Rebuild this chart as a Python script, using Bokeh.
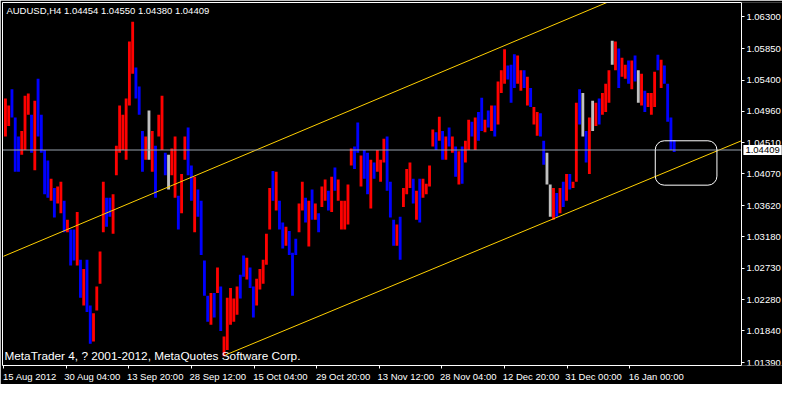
import math
from bokeh.plotting import figure
from bokeh.models import (Range1d, FixedTicker, PrintfTickFormatter, Label, BoxAnnotation,
                          ColumnDataSource, LinearAxis)
from bokeh.embed import file_html
from bokeh.resources import INLINE

symbol = "AUDUSD,H4"
last_ohlc = [1.04454, 1.04550, 1.04380, 1.04409]
copyright_text = "MetaTrader 4, ? 2001-2012, MetaQuotes Software Corp."

# aggregated H4 bars (each slot ~ 3.33 H4 bars)
highs = [
    1.0514, 1.0504, 1.0527, 1.0487, 1.0460, 1.0468, 1.0518, 1.0521, 1.0491, 1.0511,
    1.0542, 1.0491, 1.0441, 1.0426, 1.0400, 1.0387, 1.0389, 1.0396, 1.0369, 1.0342,
    1.0328, 1.0328, 1.0353, 1.0285, 1.0272, 1.0285, 1.0220, 1.0209, 1.0247, 1.0297,
    1.0396, 1.0373, 1.0373, 1.0378, 1.0447,
    1.0504, 1.0491, 1.0514, 1.0595, 1.0623, 1.0558, 1.0531, 1.0468, 1.0460, 1.0497,
    1.0468, 1.0447, 1.0491, 1.0518, 1.0437, 1.0434, 1.0443, 1.0460, 1.0376, 1.0407,
    1.0460, 1.0473, 1.0419, 1.0403, 1.0385, 1.0369, 1.0284, 1.0234, 1.0238, 1.0238,
    1.0274, 1.0247, 1.0176, 1.0231,
    1.0245, 1.0230, 1.0247, 1.0264, 1.0291, 1.0288, 1.0274, 1.0247, 1.0258, 1.0272,
    1.0285, 1.0322, 1.0387, 1.0411, 1.0410, 1.0369, 1.0338, 1.0332, 1.0326, 1.0295,
    1.0315, 1.0365, 1.0396, 1.0373, 1.0369, 1.0385, 1.0365, 1.0351, 1.0389, 1.0399,
    1.0383, 1.0403, 1.0416, 1.0399, 1.0369,
    1.0369, 1.0392, 1.0443, 1.0446, 1.0480, 1.0433, 1.0441, 1.0437, 1.0427, 1.0423,
    1.0441, 1.0427, 1.0457, 1.0460, 1.0396, 1.0342, 1.0335, 1.0346, 1.0387, 1.0414,
    1.0423, 1.0400, 1.0383, 1.0400, 1.0400, 1.0393, 1.0419, 1.0470, 1.0466, 1.0488,
    1.0468, 1.0460, 1.0473, 1.0460,
    1.0446, 1.0439, 1.0446, 1.0454, 1.0484, 1.0481, 1.0487, 1.0495, 1.0515, 1.0484,
    1.0497, 1.0504, 1.0504, 1.0538, 1.0554, 1.0584, 1.0561, 1.0562, 1.0577, 1.0575,
    1.0554, 1.0554, 1.0545, 1.0529, 1.0502, 1.0495, 1.0493, 1.0454, 1.0437, 1.0392,
    1.0387, 1.0380, 1.0387, 1.0396, 1.0407,
    1.0407, 1.0396, 1.0508, 1.0527, 1.0522, 1.0468, 1.0487, 1.0511, 1.0508, 1.0514,
    1.0522, 1.0535, 1.0554, 1.0596, 1.0595, 1.0585, 1.0572, 1.0562, 1.0568, 1.0568,
    1.0575, 1.0554, 1.0549, 1.0525, 1.0522, 1.0522, 1.0552, 1.0576, 1.0569, 1.0561,
    1.0535, 1.0487, 1.0455,
]
lows = [
    1.0460, 1.0475, 1.0487, 1.0410, 1.0410, 1.0434, 1.0441, 1.0491, 1.0437, 1.0412,
    1.0460, 1.0437, 1.0378, 1.0373, 1.0369, 1.0345, 1.0365, 1.0351, 1.0324, 1.0324,
    1.0277, 1.0284, 1.0277, 1.0231, 1.0220, 1.0211, 1.0166, 1.0169, 1.0213, 1.0251,
    1.0324, 1.0332, 1.0346, 1.0322, 1.0405,
    1.0437, 1.0441, 1.0427, 1.0504, 1.0549, 1.0514, 1.0491, 1.0410, 1.0427, 1.0427,
    1.0410, 1.0373, 1.0460, 1.0441, 1.0405, 1.0385, 1.0405, 1.0373, 1.0328, 1.0351,
    1.0427, 1.0405, 1.0369, 1.0324, 1.0346, 1.0292, 1.0234, 1.0197, 1.0193, 1.0203,
    1.0238, 1.0184, 1.0148, 1.0157,
    1.0193, 1.0197, 1.0207, 1.0230, 1.0261, 1.0257, 1.0245, 1.0203, 1.0220, 1.0243,
    1.0251, 1.0278, 1.0328, 1.0369, 1.0355, 1.0328, 1.0301, 1.0305, 1.0292, 1.0234,
    1.0292, 1.0324, 1.0355, 1.0338, 1.0304, 1.0342, 1.0342, 1.0324, 1.0360, 1.0369,
    1.0355, 1.0353, 1.0383, 1.0369, 1.0328,
    1.0328, 1.0335, 1.0419, 1.0414, 1.0437, 1.0389, 1.0400, 1.0378, 1.0358, 1.0400,
    1.0410, 1.0396, 1.0423, 1.0383, 1.0345, 1.0305, 1.0305, 1.0285, 1.0360, 1.0378,
    1.0387, 1.0365, 1.0342, 1.0338, 1.0373, 1.0378, 1.0389, 1.0446, 1.0441, 1.0454,
    1.0427, 1.0427, 1.0446, 1.0437,
    1.0403, 1.0392, 1.0393, 1.0423, 1.0441, 1.0460, 1.0441, 1.0454, 1.0468, 1.0466,
    1.0473, 1.0468, 1.0460, 1.0477, 1.0522, 1.0535, 1.0541, 1.0508, 1.0529, 1.0535,
    1.0525, 1.0529, 1.0504, 1.0502, 1.0477, 1.0461, 1.0460, 1.0420, 1.0392, 1.0346,
    1.0342, 1.0346, 1.0351, 1.0360, 1.0369,
    1.0385, 1.0387, 1.0396, 1.0477, 1.0460, 1.0423, 1.0407, 1.0468, 1.0475, 1.0477,
    1.0491, 1.0495, 1.0508, 1.0562, 1.0554, 1.0529, 1.0545, 1.0542, 1.0535, 1.0527,
    1.0538, 1.0508, 1.0504, 1.0495, 1.0502, 1.0491, 1.0502, 1.0554, 1.0529, 1.0535,
    1.0481, 1.0441, 1.0438,
]
# r = up bar, b = down bar, g = neutral bar
bar_dirs = (
    "rrbbbrrrbr" "bbbbrbrrbr" "bbrbrbbrrr" "rbbrr"
    "rrrrrbbbrg" "rbrrbgrrbr" "rbbrbbbbrb" "rbrr"
    "rrrbbrbbrr" "rrrbrbbrbb" "brrbrbrbrr" "brbrr"
    "rrrbbrbbrb" "rrrbbbrbrr" "rbrbrrrrbr" "brbr"
    "brbrrbrbbr" "brbrrrbbbr" "rbrbrrbbgg" "rbrbr"
    "brrbgbrgrb" "rrrgrbrrbr" "bgrbrrrbrb" "bbb"
)
bars_per_slot = 10 / 3

time_labels = ["15 Aug 2012", "30 Aug 04:00", "13 Sep 20:00", "28 Sep 12:00",
               "15 Oct 04:00", "29 Oct 20:00", "13 Nov 12:00", "28 Nov 04:00",
               "12 Dec 20:00", "31 Dec 00:00", "16 Jan 00:00"]
time_label_bars = [0, 64, 128, 192, 256, 320, 384, 448, 512, 576, 640]
price_ticks = [1.01390, 1.01840, 1.02280, 1.02730, 1.03180, 1.03620,
               1.04070, 1.04510, 1.04960, 1.05400, 1.05850, 1.06300]

upper_channel_bars = [0, 640]
upper_channel_prices = [1.0290, 1.0664]
lower_channel_bars = [227, 754]
lower_channel_prices = [1.0150, 1.0454]
box_bars = [666, 729]
box_prices = [1.0391, 1.0454]

first_bar, scale_bar = -1, 754          # visible bars; price scale sits at scale_bar
price_min, price_max = 1.01350, 1.06503

FONT = "Liberation Sans"
color_map = {"r": "#ff0000", "b": "#0000ff", "g": "#c0c0c0"}

n = min(len(highs), len(lows), len(bar_dirs))
src = ColumnDataSource(dict(
    x=[(i + 0.6) * bars_per_slot for i in range(n)],
    hi=highs[:n], lo=lows[:n],
    c=[color_map[d] for d in bar_dirs[:n]],
))

# frame covers the price-scale strip too, so the bid marker is not clipped
p = figure(width=782, height=384, output_backend="svg", toolbar_location=None,
           x_range=Range1d(first_bar, 796), y_range=Range1d(price_min, price_max),
           y_axis_location="right",
           background_fill_color="black", border_fill_color="black",
           outline_line_color=None,
           min_border_left=2, min_border_top=2, min_border_right=0, min_border_bottom=0)
p.grid.visible = False

# price bars
p.vbar(x="x", top="hi", bottom="lo", width=2.9, fill_color="c", line_color=None, source=src)

# channel lines
p.line(upper_channel_bars, upper_channel_prices, line_color="#ffd000", line_width=1)
p.line(lower_channel_bars, lower_channel_prices, line_color="#ffd000", line_width=1)

# bid line (from the price scale leftwards)
p.ray(x=[scale_bar], y=[last_ohlc[3]], length=0, angle=math.pi, line_color="#98a2ae", line_width=1)

# rounded box
p.add_layout(BoxAnnotation(left=box_bars[0], right=box_bars[1], bottom=box_prices[0], top=box_prices[1],
                           fill_alpha=0, line_color="white", line_alpha=1, line_width=1, border_radius=9))

# price axis, fixed at the right end of the chart area
ya = p.yaxis[0]
ya.fixed_location = scale_bar
ya.ticker = FixedTicker(ticks=price_ticks)
ya.formatter = PrintfTickFormatter(format="%.5f")
ya.major_tick_line_color = "white"
ya.major_tick_out = 3
ya.minor_tick_line_color = None

# time axis: labels sit to the right of their tick (major ticks hidden, minor ticks = real ticks)
label_half_width = 27
xa = p.xaxis[0]
label_pos = [b + label_half_width for b in time_label_bars]
xa.ticker = FixedTicker(ticks=label_pos, minor_ticks=time_label_bars)
xa.major_label_overrides = {b: t for b, t in zip(label_pos, time_labels)}
xa.bounds = (first_bar, scale_bar)
xa.major_tick_line_color = None
xa.minor_tick_line_color = "white"
xa.minor_tick_in = 0
xa.minor_tick_out = 3
xa.major_tick_out = 3

for ax in (xa, ya):
    ax.axis_line_color = "white"
    ax.major_tick_in = 0
    ax.major_label_text_color = "white"
    ax.major_label_text_font = FONT
    ax.major_label_text_font_size = "9.5px"
    ax.major_label_standoff = 2

# chart border on top and left
top_border = LinearAxis(ticker=FixedTicker(ticks=[]), bounds=(first_bar, scale_bar),
                        axis_line_color="white", major_label_text_font_size="0px",
                        major_tick_line_color=None, minor_tick_line_color=None,
                        major_label_standoff=0)
left_border = LinearAxis(ticker=FixedTicker(ticks=[]),
                         axis_line_color="white", major_label_text_font_size="0px",
                         major_tick_line_color=None, minor_tick_line_color=None,
                         major_label_standoff=0)
p.add_layout(top_border, "above")
p.add_layout(left_border, "left")

# texts
head = symbol + "  " + " ".join("%.5f" % v for v in last_ohlc)
p.add_layout(Label(x=3, y=1.0647, text=head, text_color="white", text_font=FONT,
                   text_font_size="9.5px", text_baseline="top"))
p.add_layout(Label(x=1, y=1.0138, text=copyright_text, text_color="white", text_font=FONT,
                   text_font_size="11.8px", text_baseline="bottom"))
# bid price marker on the price scale
p.add_layout(Label(x=scale_bar, x_offset=2, y=last_ohlc[3], text="%.5f" % last_ohlc[3], text_color="black",
                   text_font=FONT, text_font_size="9.5px", text_baseline="middle",
                   background_fill_color="white", padding=2))

open("out.html", "w").write(file_html(p, INLINE))
